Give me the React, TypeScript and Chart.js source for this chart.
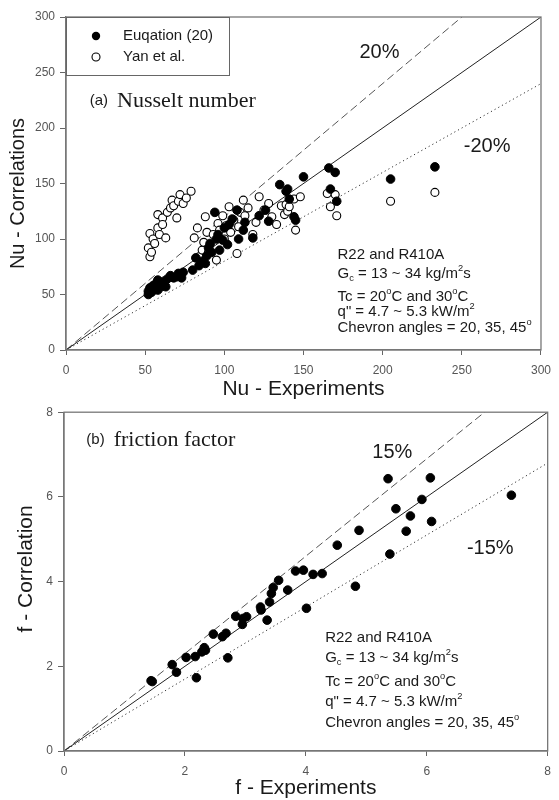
import React, { useEffect, useRef } from "react";
import { Chart, registerables } from "chart.js";

Chart.register(...registerables);

const SANS = "'Liberation Sans', Arial, sans-serif";
const SERIF = "'Liberation Serif', 'Times New Roman', serif";

// ---------- (a) Nusselt number ----------
const nuEqExp = [52, 52, 53, 54, 55, 56, 57, 58, 58, 60, 61, 62, 63, 64, 66, 68, 70, 71, 73, 74, 80, 82, 84, 86, 88, 89, 90, 91, 92, 94, 95, 96, 97, 99, 100, 102, 103, 105, 108, 109, 112, 113, 118, 122, 126, 128, 135, 139, 140, 141, 144, 145, 150, 166, 167, 170, 171, 205, 233];
const nuEqCorr = [50, 53, 56, 52, 58, 55, 60, 63, 54, 57, 60, 62, 57, 64, 67, 65, 66, 69, 65, 70, 72, 83, 76, 80, 78, 85, 92, 96, 88, 124, 100, 104, 90, 99, 110, 95, 113, 118, 126, 100, 108, 115, 101, 121, 126, 116, 149, 143, 145, 136, 120, 117, 156, 164, 145, 160, 134, 154, 165];

const nuYanExp = [52, 53, 54, 53, 55, 56, 58, 58, 59, 61, 61, 63, 64, 66, 67, 68, 70, 71, 72, 74, 76, 79, 81, 83, 84, 86, 87, 88, 89, 90, 91, 93, 95, 96, 97, 99, 100, 101, 103, 104, 106, 108, 109, 110, 112, 113, 115, 118, 120, 122, 125, 128, 130, 133, 136, 138, 139, 140, 141, 144, 145, 148, 165, 167, 170, 171, 205, 233];
const nuYanCorr = [92, 84, 88, 105, 100, 96, 110, 122, 104, 119, 113, 101, 124, 128, 135, 130, 119, 134, 140, 132, 137, 143, 101, 110, 84, 90, 97, 120, 106, 88, 95, 104, 81, 114, 108, 121, 100, 112, 129, 106, 117, 87, 111, 124, 135, 121, 128, 104, 115, 138, 126, 132, 120, 113, 130, 122, 131, 125, 129, 136, 108, 138, 141, 129, 140, 121, 134, 142];

const nuTicks = [0, 50, 100, 150, 200, 250, 300];
const nuBand = 0.2;
const nuLegendLabels = ["Euqation (20)", "Yan et al."];
const nuPanelLabel = ["(a)", "Nusselt number"];
const nuBandLabels = ["20%", "-20%"];

// ---------- (b) friction factor ----------
const fExp = [1.44, 1.46, 1.79, 1.86, 2.02, 2.17, 2.19, 2.28, 2.32, 2.34, 2.47, 2.62, 2.68, 2.71, 2.84, 2.95, 2.96, 3.02, 3.25, 3.26, 3.36, 3.40, 3.43, 3.46, 3.55, 3.70, 3.83, 3.96, 4.01, 4.12, 4.27, 4.52, 4.82, 4.88, 5.36, 5.39, 5.49, 5.66, 5.73, 5.92, 6.06, 6.08, 7.40];
const fCorr = [1.66, 1.64, 2.04, 1.86, 2.21, 2.23, 1.73, 2.34, 2.44, 2.38, 2.76, 2.70, 2.78, 2.20, 3.18, 2.99, 3.13, 3.17, 3.40, 3.33, 3.09, 3.52, 3.72, 3.86, 4.03, 3.80, 4.25, 4.27, 3.37, 4.17, 4.19, 4.86, 3.89, 5.21, 6.43, 4.65, 5.72, 5.19, 5.55, 5.94, 6.45, 5.42, 6.04];
const fTicks = [0, 2, 4, 6, 8];
const fBand = 0.15;
const fPanelLabel = ["(b)", "friction factor"];
const fBandLabels = ["15%", "-15%"];

// ---------- condition notes (rich text: 0 normal, 1 superscript, -1 subscript) ----------
type Part = [string, number];
const conditionLines: Part[][] = [
  [["R22 and R410A", 0]],
  [["G", 0], ["c", -1], [" = 13 ~ 34 kg/m", 0], ["2", 1], ["s", 0]],
  [["Tc = 20", 0], ["o", 1], ["C and 30", 0], ["o", 1], ["C", 0]],
  [["q\" = 4.7 ~ 5.3 kW/m", 0], ["2", 1]],
  [["Chevron angles = 20, 35, 45", 0], ["o", 1]],
];

function drawRich(ctx: CanvasRenderingContext2D, parts: Part[], x: number, y: number, size: number) {
  let cx = x;
  ctx.textAlign = "left";
  ctx.textBaseline = "middle";
  for (const [t, k] of parts) {
    const fs = k === 0 ? size : size * 0.62;
    ctx.font = `${fs}px ${SANS}`;
    const dy = k === 1 ? -size * 0.36 : k === -1 ? size * 0.32 : 0;
    ctx.fillText(t, cx, y + dy);
    cx += ctx.measureText(t).width;
  }
}

type PanelSpec = {
  max: number;
  ticks: number[];
  band: number;
  eqX: number[];
  eqY: number[];
  yanX?: number[];
  yanY?: number[];
  xTitle: string;
  yTitle: string;
  padTop: number;
  padRight: number;
  xAxisH: number;
  yAxisW: number;
  xTickPad: number;
  xTitlePadBottom: number;
  yTitleX: number;
  yTitleCenter: number;
  yTitleSize: number;
  panelLabel: string[];
  panelPos: [number, number];
  bandLabels: string[];
  bandPos: [number, number][];
  notePos: [number, number[]];
  legend: boolean;
};

function makeFramePlugin(spec: PanelSpec) {
  return {
    id: "frameAndNotes",
    afterDraw(chart: any) {
      const { ctx, chartArea: a, scales } = chart;
      const xs = scales.x;
      const ys = scales.y;
      ctx.save();
      // frame
      ctx.strokeStyle = "#777";
      ctx.lineWidth = 1.3;
      ctx.strokeRect(a.left, a.top, a.right - a.left, a.bottom - a.top);

      // y axis title
      ctx.save();
      ctx.fillStyle = "#1a1a1a";
      ctx.font = `${spec.yTitleSize}px ${SANS}`;
      ctx.textAlign = "center";
      ctx.textBaseline = "middle";
      ctx.translate(spec.yTitleX, ys.getPixelForValue(spec.yTitleCenter));
      ctx.rotate(-Math.PI / 2);
      ctx.fillText(spec.yTitle, 0, 0);
      ctx.restore();

      ctx.fillStyle = "#1a1a1a";
      // panel label
      const px = xs.getPixelForValue(spec.panelPos[0]);
      const py = ys.getPixelForValue(spec.panelPos[1]);
      ctx.textBaseline = "alphabetic";
      ctx.textAlign = "left";
      ctx.font = `15px ${SANS}`;
      ctx.fillText(spec.panelLabel[0], px, py - 2);
      const w0 = ctx.measureText(spec.panelLabel[0]).width;
      ctx.font = `22px ${SERIF}`;
      ctx.fillText(spec.panelLabel[1], px + w0 + 9, py);

      // band labels
      ctx.font = `20px ${SANS}`;
      ctx.textAlign = "center";
      ctx.textBaseline = "middle";
      spec.bandLabels.forEach((t, i) => {
        ctx.fillText(t, xs.getPixelForValue(spec.bandPos[i][0]), ys.getPixelForValue(spec.bandPos[i][1]));
      });

      // conditions
      const nx = xs.getPixelForValue(spec.notePos[0]);
      conditionLines.forEach((parts, i) => {
        drawRich(ctx, parts, nx, ys.getPixelForValue(spec.notePos[1][i]), 15);
      });

      // legend
      if (spec.legend) {
        const lx = a.left;
        const ly = a.top;
        ctx.strokeStyle = "#666";
        ctx.lineWidth = 1;
        ctx.strokeRect(lx + 0.5, ly + 0.5, 163, 58);
        ctx.beginPath();
        ctx.arc(lx + 30, ly + 19, 4.2, 0, Math.PI * 2);
        ctx.fillStyle = "#000";
        ctx.fill();
        ctx.beginPath();
        ctx.arc(lx + 30, ly + 40, 4, 0, Math.PI * 2);
        ctx.fillStyle = "#fff";
        ctx.fill();
        ctx.strokeStyle = "#000";
        ctx.lineWidth = 1.1;
        ctx.stroke();
        ctx.fillStyle = "#1a1a1a";
        ctx.font = `15px ${SANS}`;
        ctx.textAlign = "left";
        ctx.textBaseline = "middle";
        ctx.fillText(nuLegendLabels[0], lx + 57, ly + 19);
        ctx.fillText(nuLegendLabels[1], lx + 57, ly + 40);
      }
      ctx.restore();
    },
  };
}

function buildConfig(spec: PanelSpec): any {
  const m = spec.max;
  const lineDs = (k: number, dash: number[], color: string) => ({
    data: [
      { x: 0, y: 0 },
      { x: m, y: m * k },
    ],
    showLine: true,
    pointRadius: 0,
    borderColor: color,
    borderWidth: 1,
    borderDash: dash,
    fill: false,
  });
  const datasets: any[] = [
    {
      data: spec.eqX.map((x, i) => ({ x, y: spec.eqY[i] })),
      pointRadius: 4.3,
      pointBackgroundColor: "#000",
      pointBorderColor: "#000",
      pointBorderWidth: 1,
    },
  ];
  if (spec.yanX && spec.yanY) {
    const yy = spec.yanY;
    datasets.push({
      data: spec.yanX.map((x, i) => ({ x, y: yy[i] })),
      pointRadius: 4,
      pointBackgroundColor: "#fff",
      pointBorderColor: "#000",
      pointBorderWidth: 1.1,
    });
  }
  datasets.push(lineDs(1, [], "#222"));
  datasets.push(lineDs(1 + spec.band, [8, 4], "#555"));
  datasets.push(lineDs(1 - spec.band, [1.2, 3], "#333"));

  const tickFont = { family: SANS, size: 12 };
  return {
    type: "scatter",
    data: { datasets },
    plugins: [makeFramePlugin(spec)],
    options: {
      responsive: false,
      animation: false,
      devicePixelRatio: 1,
      layout: { padding: { left: 0, top: spec.padTop, right: spec.padRight, bottom: 0 } },
      plugins: { legend: { display: false }, tooltip: { enabled: false } },
      scales: {
        x: {
          type: "linear",
          min: 0,
          max: m,
          afterBuildTicks: (s: any) => {
            s.ticks = spec.ticks.map((v) => ({ value: v }));
          },
          afterFit: (s: any) => {
            s.height = spec.xAxisH;
          },
          ticks: { font: tickFont, color: "#555", padding: spec.xTickPad, maxRotation: 0 },
          grid: { drawOnChartArea: false, drawTicks: true, tickLength: 5, color: "#666" },
          border: { color: "#777", width: 1.3 },
          title: {
            display: true,
            text: spec.xTitle,
            color: "#1a1a1a",
            font: { family: SANS, size: 21, lineHeight: 1 },
            padding: { top: 0, bottom: spec.xTitlePadBottom },
          },
        },
        y: {
          type: "linear",
          min: 0,
          max: m,
          afterBuildTicks: (s: any) => {
            s.ticks = spec.ticks.map((v) => ({ value: v }));
          },
          afterFit: (s: any) => {
            s.width = spec.yAxisW;
          },
          ticks: { font: tickFont, color: "#555", padding: 5 },
          grid: { drawOnChartArea: false, drawTicks: true, tickLength: 6, color: "#666" },
          border: { color: "#777", width: 1.3 },
          title: { display: false },
        },
      },
    },
  };
}

const nuSpec: PanelSpec = {
  max: 300,
  ticks: nuTicks,
  band: nuBand,
  eqX: nuEqExp,
  eqY: nuEqCorr,
  yanX: nuYanExp,
  yanY: nuYanCorr,
  xTitle: "Nu - Experiments",
  yTitle: "Nu - Correlations",
  padTop: 17,
  padRight: 10,
  xAxisH: 50,
  yAxisW: 66,
  xTickPad: 8,
  xTitlePadBottom: 0,
  yTitleX: 18,
  yTitleCenter: 141,
  yTitleSize: 20,
  panelLabel: nuPanelLabel,
  panelPos: [15, 219],
  bandLabels: nuBandLabels,
  bandPos: [
    [198, 268],
    [266, 183],
  ],
  notePos: [171.5, [85.5, 69, 47.7, 34.2, 19.8]],
  legend: true,
};

const fSpec: PanelSpec = {
  max: 8,
  ticks: fTicks,
  band: fBand,
  eqX: fExp,
  eqY: fCorr,
  xTitle: "f - Experiments",
  yTitle: "f - Correlation",
  padTop: 12,
  padRight: 6,
  xAxisH: 49,
  yAxisW: 64,
  xTickPad: 8,
  xTitlePadBottom: 1.5,
  yTitleX: 26,
  yTitleCenter: 4.3,
  yTitleSize: 21,
  panelLabel: fPanelLabel,
  panelPos: [0.37, 7.2],
  bandLabels: fBandLabels,
  bandPos: [
    [5.43, 7.04],
    [7.05, 4.79],
  ],
  notePos: [4.32, [2.67, 2.2, 1.63, 1.16, 0.66]],
  legend: false,
};

function Panel({ spec }: { spec: PanelSpec }) {
  const ref = useRef<HTMLCanvasElement | null>(null);
  useEffect(() => {
    if (!ref.current) return;
    const chart = new Chart(ref.current, buildConfig(spec));
    return () => chart.destroy();
  }, [spec]);
  return <canvas ref={ref} width={559} height={400} style={{ display: "block", width: 559, height: 400 }} />;
}

export default function App() {
  return (
    <div style={{ position: "absolute", left: 0, top: 0, width: 559, height: 800, background: "#fff" }}>
      <Panel spec={nuSpec} />
      <Panel spec={fSpec} />
    </div>
  );
}
